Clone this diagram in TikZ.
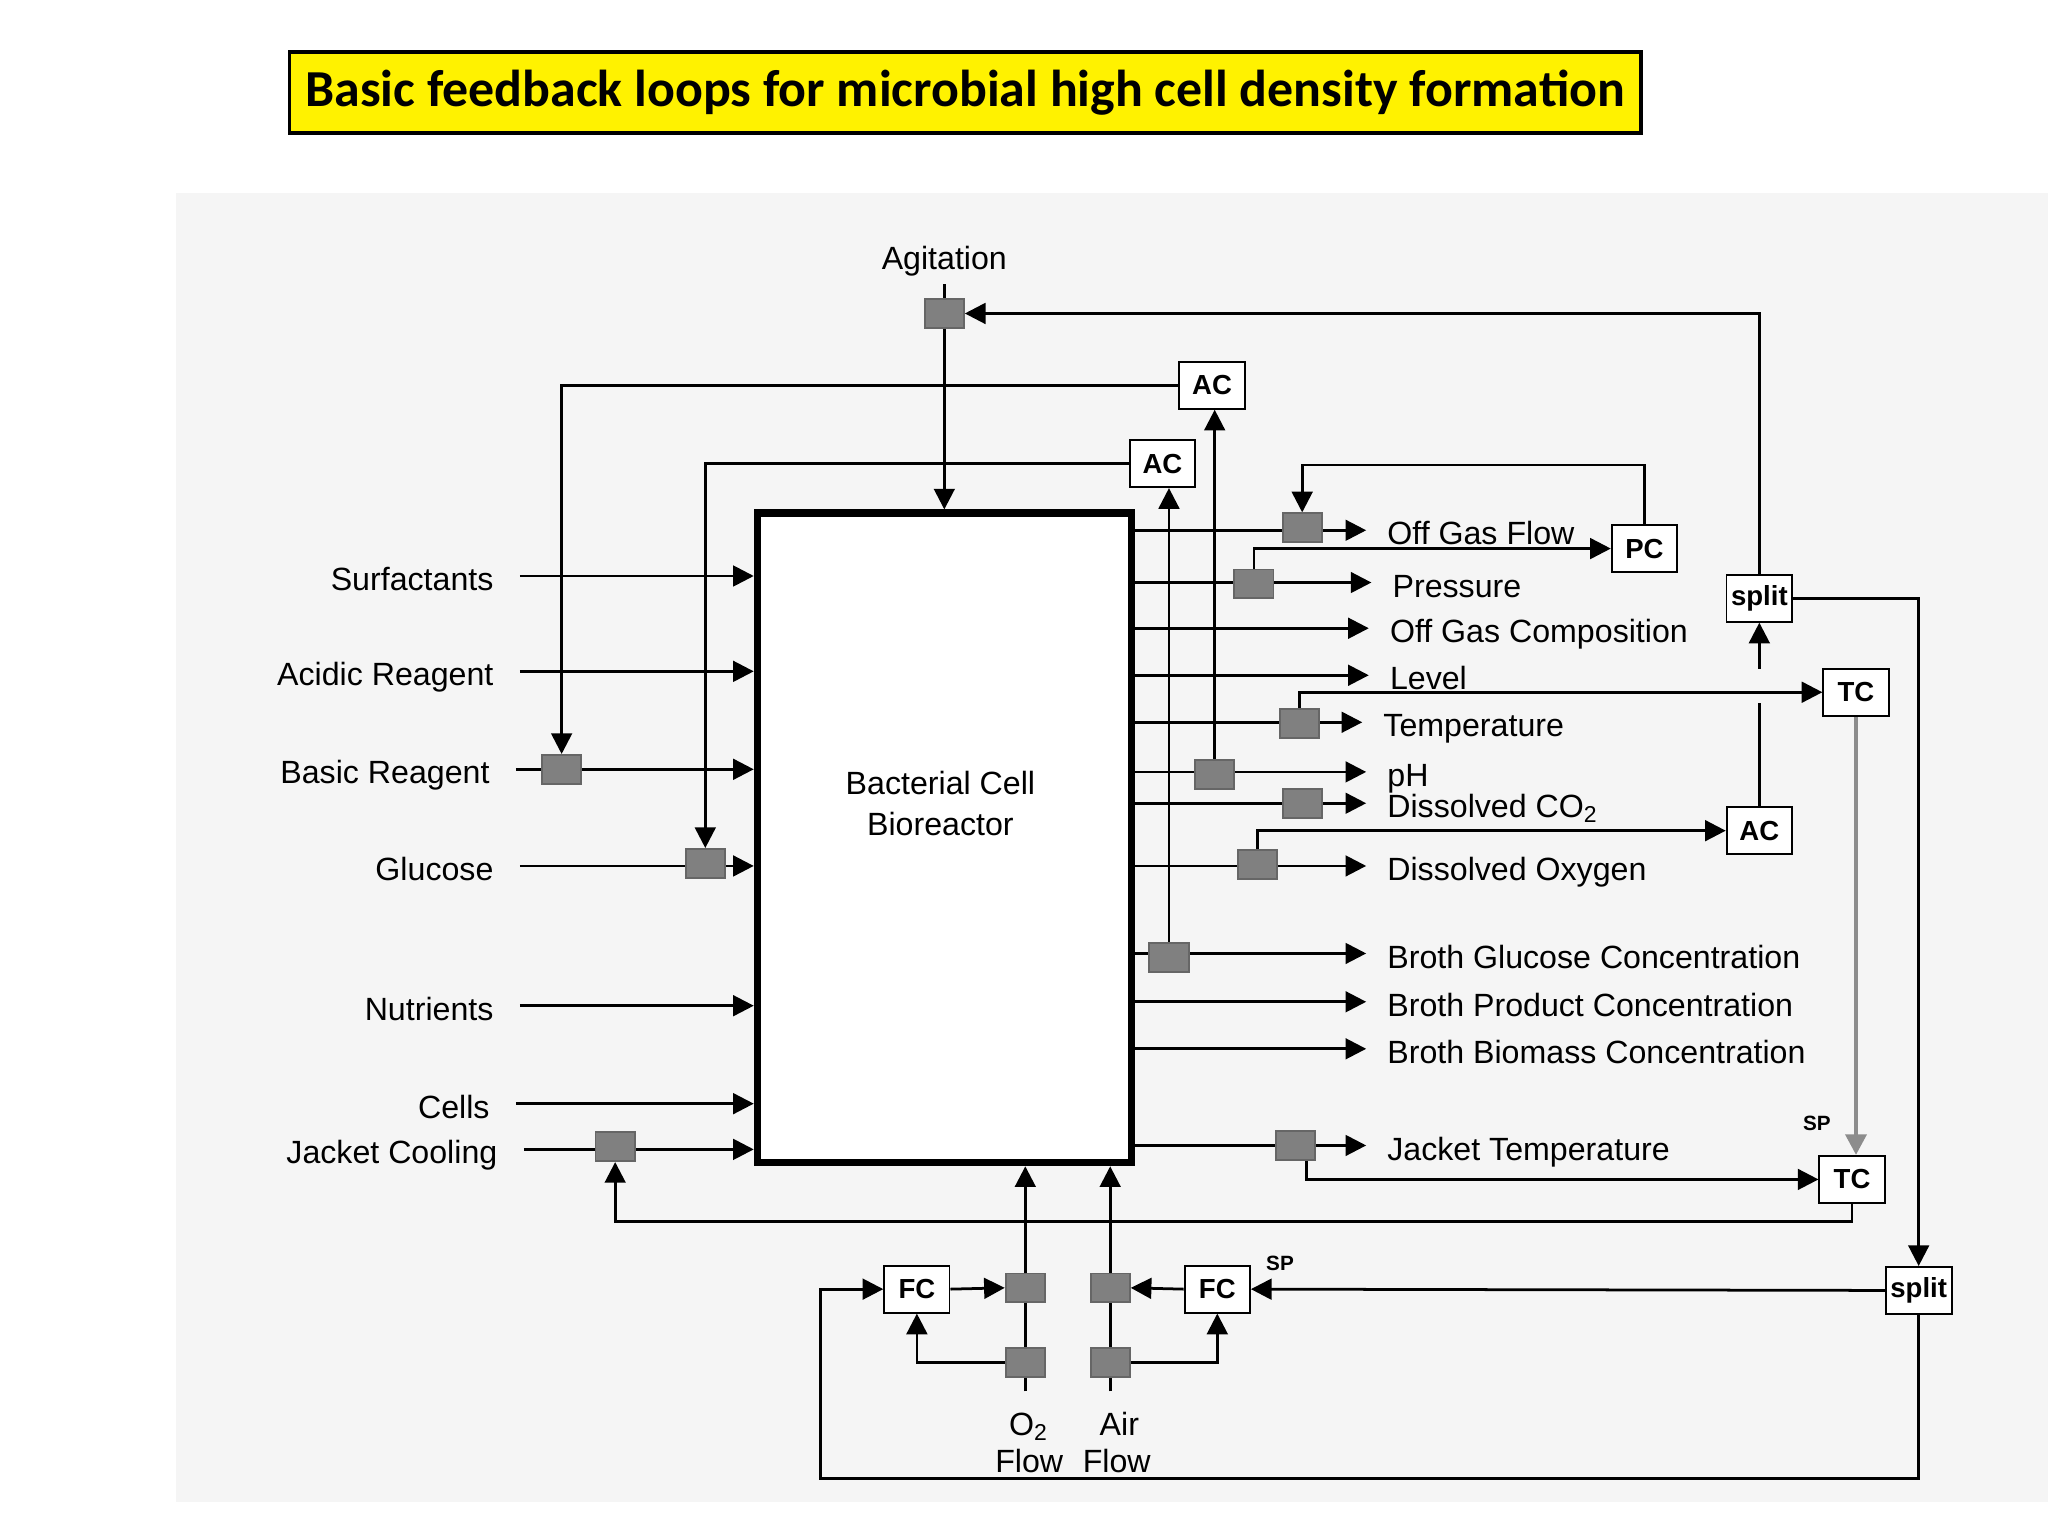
\documentclass[tikz,border=0pt]{standalone}
\usepackage{fontspec}
\setmainfont{Liberation Sans}
\newfontfamily\titlefont{Carlito}
\usetikzlibrary{arrows.meta}
\pgfdeclarelayer{bottom}
\pgfdeclarelayer{background}
\pgfsetlayers{bottom,background,main}
\begin{document}
\begin{tikzpicture}[x=0.01cm,y=-0.01cm,
  valve/.style={draw=black!60,fill=black!50,minimum width=0.3cm,minimum height=0.22cm,inner sep=0pt},
  ctl/.style={draw,fill=white,font=\bfseries\fontsize{6}{7}\selectfont,minimum width=0.5cm,minimum height=0.36cm,inner sep=1pt},
  lab/.style={font=\fontsize{7}{8}\selectfont,inner sep=1pt,text height=1.6ex,text depth=0.4ex},
  sp/.style={font=\bfseries\fontsize{4.5}{5}\selectfont,inner sep=0pt},
  arr/.style={line width=0.6pt,-{Triangle[length=4.5pt,width=4.5pt]}},
  ln/.style={line width=0.6pt}]
\useasboundingbox (0,0) rectangle (1568,1176);
\begin{pgfonlayer}{bottom}
\fill[black!4] (135,148) rectangle (1568,1150);
\end{pgfonlayer}
% title
\node[draw,line width=0.8pt,fill=yellow,minimum width=10.34cm,minimum height=0.62cm,font=\titlefont\bfseries\fontsize{11.3}{13}\selectfont] (title) at (739,71) {Basic feedback loops for microbial high cell density formation};
% reactor
\node[draw,line width=1.6pt,fill=white,minimum width=2.86cm,minimum height=4.97cm] (R) at (723,641.5) {};
\node[align=center,font=\fontsize{7}{9}\selectfont] (Rl) at (720,615) {Bacterial Cell\\Bioreactor};
% inputs
\node[lab,anchor=east] (i1) at (382,441) {Surfactants};
\node[lab,anchor=east] (i2) at (382,514) {Acidic Reagent};
\node[lab,anchor=east] (i3) at (379,589) {Basic Reagent};
\node[lab,anchor=east] (i4) at (382,663) {Glucose};
\node[lab,anchor=east] (i5) at (382,770) {Nutrients};
\node[lab,anchor=east] (i6) at (379,845) {Cells};
\node[lab,anchor=east] (i7) at (385,880) {Jacket Cooling};
\node[valve] (vBR) at (430,589) {};
\node[valve] (vGl) at (540,661) {};
\node[valve] (vJC) at (471,878) {};
% outputs
\node[lab,anchor=west] (o1) at (1058,406) {Off Gas Flow};
\node[lab,anchor=west] (o2) at (1062,446) {Pressure};
\node[lab,anchor=west] (o3) at (1060,481) {Off Gas Composition};
\node[lab,anchor=west] (o4) at (1060,517) {Level};
\node[lab,anchor=west] (o5) at (1055,553) {Temperature};
\node[lab,anchor=west] (o6) at (1058,591) {pH};
\node[lab,anchor=west] (o7) at (1058,615) {Dissolved CO\textsubscript{2}};
\node[lab,anchor=west] (o8) at (1058,663) {Dissolved Oxygen};
\node[lab,anchor=west] (o9) at (1058,730) {Broth Glucose Concentration};
\node[lab,anchor=west] (o10) at (1058,767) {Broth Product Concentration};
\node[lab,anchor=west] (o11) at (1058,803) {Broth Biomass Concentration};
\node[lab,anchor=west] (o12) at (1058,877) {Jacket Temperature};
\node[valve] (vOG) at (997,404) {};
\node[valve] (vPr) at (960,447) {};
\node[valve] (vTe) at (995,554) {};
\node[valve] (vpH) at (930,593) {};
\node[valve] (vCO) at (997,615) {};
\node[valve] (vDO) at (963,662) {};
\node[valve] (vBG) at (895,733) {};
\node[valve] (vJT) at (992,877) {};
% top
\node[lab] (ag) at (723,195) {Agitation};
\node[valve] (vAg) at (723,240) {};
\node[ctl] (AC1) at (928,295) {AC};
\node[ctl] (AC2) at (890,355) {AC};
\node[ctl] (PC) at (1259,420) {PC};
\node[ctl] (sp1) at (1347,458) {split};
\node[ctl] (TC1) at (1421,530) {TC};
\node[ctl] (AC3) at (1347,636) {AC};
\node[ctl] (TC2) at (1418,903) {TC};
\node[ctl] (sp2) at (1469,988) {split};
\node[ctl] (FC1) at (702,987) {FC};
\node[ctl] (FC2) at (932,987) {FC};
\node[sp] (spa) at (1391,860) {SP};
\node[sp] (spb) at (980,967) {SP};
% bottom
\node[valve] (vO1) at (785,986) {};
\node[valve] (vO2) at (785,1043) {};
\node[valve] (vA1) at (850,986) {};
\node[valve] (vA2) at (850,1043) {};
\node[lab] (o2a) at (788,1088) {O\textsubscript{2}};
\node[lab] (o2b) at (788,1116) {Flow};
\node[lab] (aa) at (857,1088) {Air};
\node[lab] (ab) at (855,1116) {Flow};
\coordinate (pcT) at (1259,356);
\coordinate (acT) at (1347,538);
\coordinate (acB) at (1347,512);
\coordinate (tcB) at (1418,935);
\coordinate (lb) at (628,1132);
\begin{pgfonlayer}{background}
\foreach \n in {i1,i2,i3,i4,i5,i6,i7}
  \draw[arr] ([xshift=0.16cm]\n.east) -- (\n -| R.west);
\foreach \n in {o1,o2,o3,o4,o5,o6,o7,o8,o9,o10,o11,o12}
  \draw[arr] (\n -| R.east) -- ([xshift=-0.12cm]\n.west);
\draw[ln] (ag.south) -- (vAg.north);
\draw[arr] (vAg.south) -- (vAg |- R.north);
\draw[arr] (sp1.north) |- (vAg.east);
\draw[arr] (AC1.west) -| (vBR.north);
\draw[arr] (vpH.north) -- (vpH |- AC1.south);
\draw[arr] (AC2.west) -| (vGl.north);
\draw[arr] (vBG.north) -- (vBG |- AC2.south);
\draw[arr] (vPr.north) |- (PC.west);
\draw[arr] (PC.north) -- (pcT) -| (vOG.north);
\draw[arr] (vTe.north) |- (TC1.west);
\draw[arr] (vDO.north) |- (AC3.west);
\draw[ln] (AC3.north) -- (acT);
\draw[arr] (acB) -- (sp1.south);
\draw[arr] (sp1.east) -| (sp2.north);
\draw[arr,draw=black!45,line width=1pt] (TC1.south) -- (TC1.south |- TC2.north);
\draw[arr] ([xshift=0.08cm]vJT.south) |- (TC2.west);
\draw[arr] (TC2.south) -- (tcB) -| (vJC.south);
\draw[arr] (sp2.west) -- (FC2.east);
\draw[arr] (FC2.west) -- (vA1.east);
\draw[arr] (FC1.east) -- (vO1.west);
\draw[arr] (sp2.south) |- (lb) |- (FC1.west);
\draw[arr] (vO2 |- o2a.north) -- (vO2 |- R.south);
\draw[arr] (vA2 |- aa.north) -- (vA2 |- R.south);
\draw[arr] (vO2.west) -| (FC1.south);
\draw[arr] (vA2.east) -| (FC2.south);
\end{pgfonlayer}
\end{tikzpicture}
\end{document}
